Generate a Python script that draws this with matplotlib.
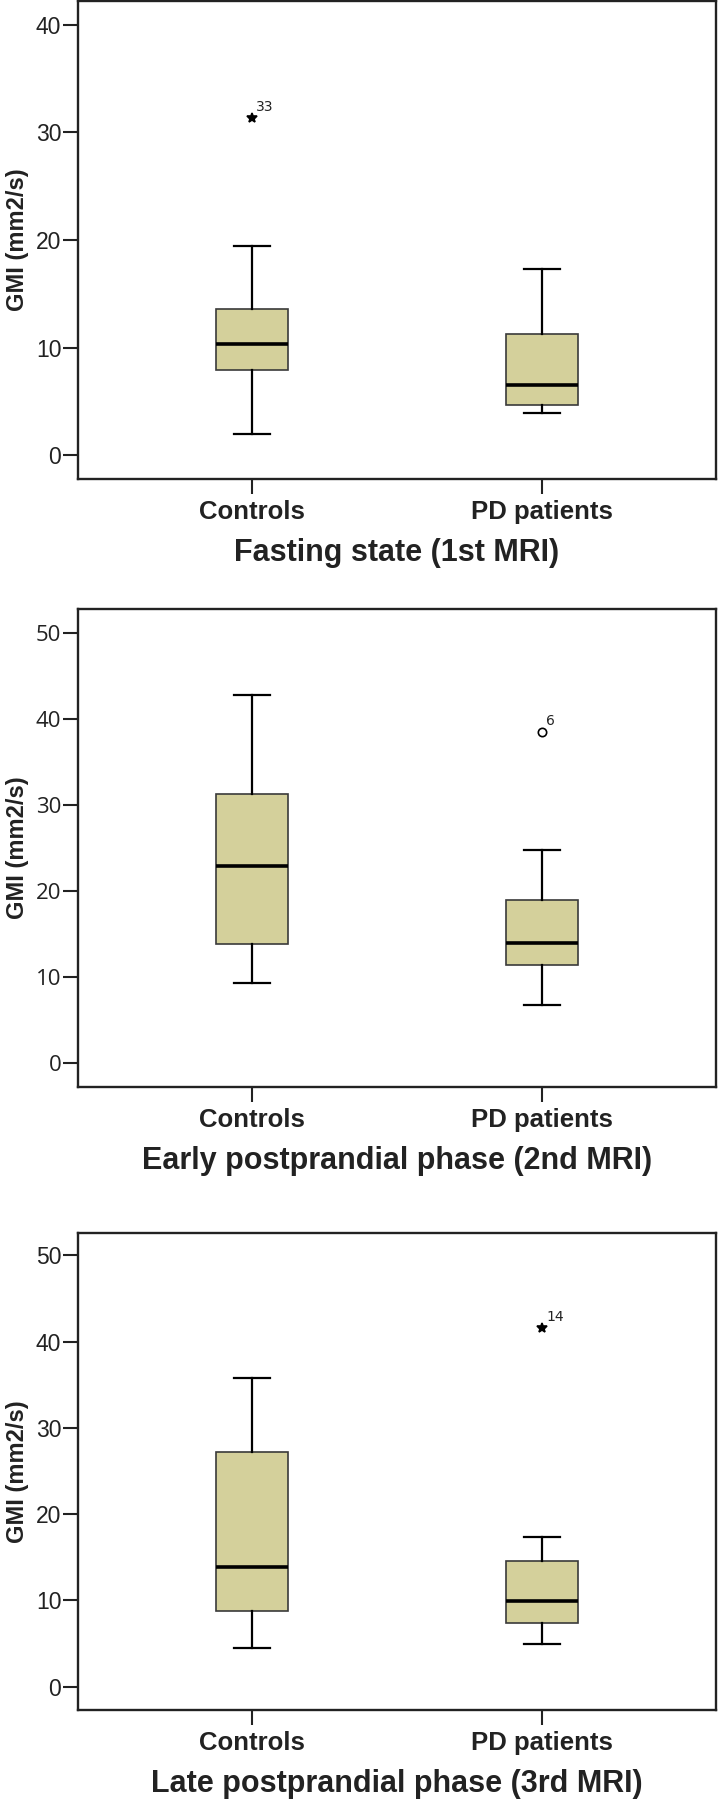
#Box plots of GMI for controls and PD patients over three MRI scans

import numpy as np
import matplotlib.pyplot as plt

#Groups
groups = ['Controls', 'PD patients']

#Panel titles
phases = ['Fasting state (1st MRI)',
          'Early postprandial phase (2nd MRI)',
          'Late postprandial phase (3rd MRI)']

#Box statistics per phase: [Controls, PD patients]
whislo = [[2.0, 3.9], [9.3, 6.7], [4.5, 5.0]]
q1 = [[7.9, 4.7], [13.8, 11.4], [8.8, 7.35]]
med = [[10.3, 6.5], [22.9, 14.0], [13.9, 9.9]]
q3 = [[13.6, 11.3], [31.3, 18.9], [27.2, 14.6]]
whishi = [[19.4, 17.3], [42.8, 24.8], [35.8, 17.4]]

#Outliers: group index, value, case label, marker
out_group = [0, 1, 1]
out_value = [31.3, 38.5, 41.6]
out_label = ['33', '6', '14']
out_marker = ['*', 'o', '*']

#Axis settings
ylims = [(-2.2, 42.2), (-2.8, 52.8), (-2.7, 52.6)]
yticks = [[0, 10, 20, 30, 40], [0, 10, 20, 30, 40, 50], [0, 10, 20, 30, 40, 50]]

boxcol = '#d4d09b'
tickfont = [['Liberation Sans', 'DejaVu Sans'],
            ['Open Sans', 'DejaVu Sans'],
            ['Liberation Sans', 'DejaVu Sans']]
bold = ['Liberation Sans', 'DejaVu Sans']

fig = plt.figure(figsize=(7.18, 18), dpi=100)
#axes edges in pixels from the top
tops = [1, 609, 1233]
bots = [479, 1087, 1710]

for k in range(3):
    ax = fig.add_axes([78/718, 1-bots[k]/1800, 638/718, (bots[k]-tops[k])/1800])
    stats = []
    for g in range(2):
        fl = [out_value[i] for i in range(3) if i == k and out_group[i] == g]
        stats.append(dict(med=med[k][g], q1=q1[k][g], q3=q3[k][g],
                          whislo=whislo[k][g], whishi=whishi[k][g], fliers=fl))
    ax.bxp(stats, positions=[1, 2], widths=0.25, patch_artist=True,
           boxprops=dict(facecolor=boxcol, edgecolor='#3a3a3a', linewidth=1.2),
           medianprops=dict(color='black', linewidth=2.6),
           whiskerprops=dict(color='black', linewidth=1.6),
           capprops=dict(color='black', linewidth=1.6),
           capwidths=0.125,
           flierprops=dict(marker=out_marker[k], markersize=6 if out_marker[k] == 'o' else 7,
                           markerfacecolor='none' if out_marker[k] == 'o' else 'black',
                           markeredgecolor='black', markeredgewidth=1.2))
    #case label next to outlier
    ax.annotate(out_label[k], (out_group[k]+1, out_value[k]), xytext=(3, 5),
                textcoords='offset points', fontsize=10, color='#222222')

    ax.set_xlim(0.4, 2.6)
    ax.set_ylim(*ylims[k])
    ax.set_yticks(yticks[k])
    ax.set_xticks([1, 2])
    ax.set_xticklabels(groups, fontsize=18.5, fontweight='bold',
                       family=bold, color='#222222')
    for lab in ax.get_yticklabels():
        lab.set_family(tickfont[k])
        lab.set_fontsize(16.5 if k != 1 else 16)
        lab.set_color('#222222')
    ax.tick_params(axis='y', length=11, width=1.5, pad=1, color='#222222')
    ax.tick_params(axis='x', length=11, width=1.5, pad=4, color='#222222')
    for s in ax.spines.values():
        s.set_linewidth(1.7)
        s.set_color('#222222')
    ax.set_ylabel('GMI (mm2/s)', fontsize=17, fontweight='bold',
                  family=bold, color='#222222')
    ax.yaxis.set_label_coords((29-78)/638, 0.5)
    ax.set_xlabel(phases[k], fontsize=22, fontweight='bold',
                  family=bold, color='#222222', labelpad=10)

fig.savefig('out.png', dpi=100)
